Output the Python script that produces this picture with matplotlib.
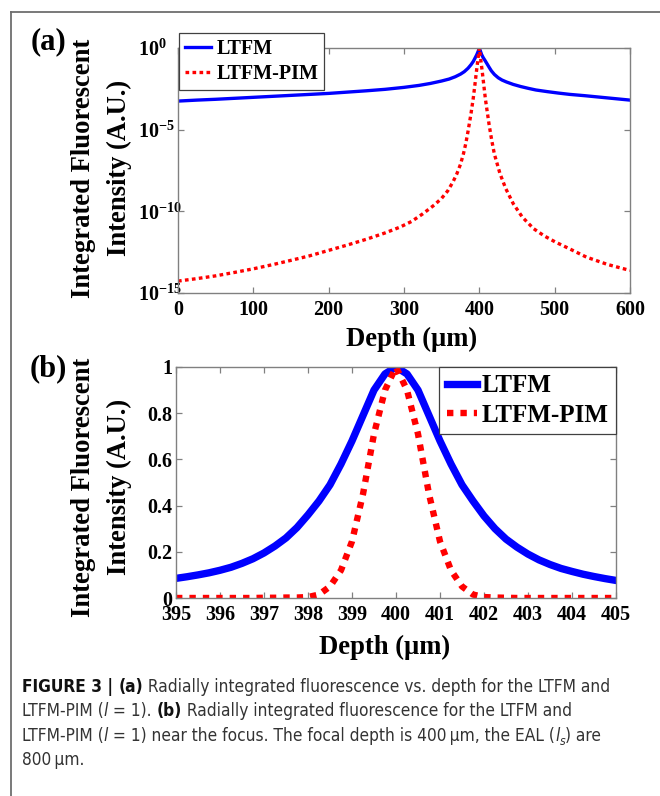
import numpy as np
import matplotlib
matplotlib.use('Agg')
import matplotlib.pyplot as plt
from matplotlib.lines import Line2D
from matplotlib.ticker import NullLocator
from matplotlib import font_manager as fm

W, H = 660, 796

# ---------------- data ----------------
# Panel (a): depth (um) and log10 of integrated intensity
a_ltfm_depth = [0, 25, 50, 75, 100, 125, 150, 175, 200, 225, 250, 275, 300, 320, 335,
                350, 360, 368, 375, 380, 385, 389, 392, 394.5, 396.5, 398.5, 400,
                401.5, 403, 405, 407.5, 410, 413, 416, 420, 425, 430, 436, 445, 455,
                465, 475, 490, 505, 520, 540, 560, 580, 600]
a_ltfm_log = [-3.25, -3.19, -3.14, -3.08, -3.02, -2.96, -2.90, -2.84, -2.78, -2.70,
              -2.62, -2.53, -2.41, -2.29, -2.17, -2.02, -1.90, -1.76, -1.60, -1.45,
              -1.24, -1.02, -0.82, -0.60, -0.42, -0.20, 0.0,
              -0.20, -0.40, -0.58, -0.76, -0.95, -1.18, -1.40, -1.62, -1.82, -1.96,
              -2.08, -2.23, -2.36, -2.47, -2.57, -2.67, -2.76, -2.84, -2.92, -3.01,
              -3.10, -3.19]
a_pim_depth = [0, 25, 50, 75, 100, 125, 150, 175, 200, 225, 250, 275, 295, 310, 325,
               340, 350, 358, 365, 370, 375, 379, 382, 385, 389, 392, 394, 396, 398,
               400, 402, 404, 406, 408, 410, 413, 416.4, 420, 427.4, 435, 445, 457,
               472, 486, 501, 520, 542, 570, 600]
a_pim_log = [-14.27, -14.12, -13.95, -13.74, -13.52, -13.27, -13.0, -12.72, -12.39,
             -12.06, -11.71, -11.32, -10.96, -10.62, -10.15, -9.62, -9.2, -8.75,
             -8.20, -7.72, -7.12, -6.46, -5.85, -5.1, -4.0, -3.05, -2.3, -1.5,
             -0.75, 0.0, -0.75, -1.5, -2.3, -3.1, -3.75, -4.7, -5.64, -6.5, -7.69,
             -8.6, -9.53, -10.35, -11.06, -11.5, -11.88, -12.3, -12.8, -13.25, -13.62]

# Panel (b): depth (um) near focus and normalized intensity
b_depth = [395, 395.25, 395.5, 395.75, 396, 396.25, 396.5, 396.75, 397, 397.25,
           397.5, 397.75, 398, 398.25, 398.5, 398.75, 399, 399.25, 399.5, 399.75,
           400, 400.25, 400.5, 400.75, 401, 401.25, 401.5, 401.75, 402, 402.25,
           402.5, 402.75, 403, 403.25, 403.5, 403.75, 404, 404.25, 404.5, 404.75, 405]
b_ltfm = [0.085, 0.092, 0.100, 0.109, 0.120, 0.133, 0.150, 0.170, 0.195, 0.225,
          0.26, 0.305, 0.36, 0.42, 0.49, 0.58, 0.68, 0.79, 0.90, 0.97,
          1.0, 0.97, 0.90, 0.79, 0.68, 0.58, 0.49, 0.42, 0.355, 0.30,
          0.255, 0.22, 0.19, 0.165, 0.145, 0.128, 0.115, 0.103, 0.093, 0.084, 0.076]
b_pim = [0.0, 0.0, 0.0, 0.0, 0.0, 0.0, 0.0, 0.0, 0.001, 0.001,
         0.002, 0.002, 0.004, 0.015, 0.05, 0.12, 0.245, 0.45, 0.71, 0.90,
         1.0, 0.90, 0.71, 0.45, 0.245, 0.12, 0.05, 0.015, 0.004, 0.002,
         0.001, 0.0, 0.0, 0.0, 0.0, 0.0, 0.0, 0.0, 0.0, 0.0, 0.0]

series_labels = ['LTFM', 'LTFM-PIM']
a_xticks = [0, 100, 200, 300, 400, 500, 600]
a_yticks = [1e-15, 1e-10, 1e-5, 1e0]
a_yticklabels = [r'$\mathbf{10^{-15}}$', r'$\mathbf{10^{-10}}$', r'$\mathbf{10^{-5}}$', r'$\mathbf{10^{0}}$']
b_xticks = [395, 396, 397, 398, 399, 400, 401, 402, 403, 404, 405]
b_yticks = [0, 0.2, 0.4, 0.6, 0.8, 1.0]
b_yticklabels = ['0', '0.2', '0.4', '0.6', '0.8', '1']
ylabel_lines = ['Integrated Fluorescent', 'Intensity (A.U.)']
xlabel_text = 'Depth (\u00b5m)'

# ---------------- style ----------------
plt.rcParams['font.family'] = ['Liberation Serif', 'DejaVu Serif']
plt.rcParams['font.weight'] = 'bold'
plt.rcParams['mathtext.fontset'] = 'custom'
plt.rcParams['mathtext.rm'] = 'Liberation Serif:bold'
plt.rcParams['mathtext.bf'] = 'Liberation Serif:bold'
plt.rcParams['mathtext.it'] = 'Liberation Serif:italic:bold'

BLUE = '#0000ff'
RED = '#ff0000'
SPINE = '#808080'

fig = plt.figure(figsize=(W / 100, H / 100), dpi=100)


def fx(px):
    return px / W


def fy(py):
    return 1 - py / H


def style_axes(ax, lsize):
    for s in ax.spines.values():
        s.set_color(SPINE)
        s.set_linewidth(1.0)
    ax.tick_params(which='both', direction='in', length=4, width=0.9, color=SPINE,
                   top=True, right=True, labelsize=lsize, labelcolor='black')


# ---------------- panel (a) ----------------
axa = fig.add_axes([fx(178), fy(293), fx(630) - fx(178), fy(48) - fy(293)])
axa.plot(a_ltfm_depth, 10.0 ** np.array(a_ltfm_log), color=BLUE, lw=2.4,
         solid_joinstyle='round', label=series_labels[0])
axa.plot(a_pim_depth, 10.0 ** np.array(a_pim_log), color=RED, lw=2.4,
         linestyle=(0, (1.1, 1.0)), dash_capstyle='butt', label=series_labels[1])
axa.set_yscale('log')
axa.set_xlim(0, 600)
axa.set_ylim(1e-15, 1)
axa.set_xticks(a_xticks)
axa.set_yticks(a_yticks)
axa.set_yticklabels(a_yticklabels)
axa.yaxis.set_minor_locator(NullLocator())
style_axes(axa, 14.5)
axa.tick_params(axis='x', pad=5)
axa.tick_params(axis='y', pad=28.5)
for t in axa.get_yticklabels():
    t.set_horizontalalignment('left')
leg_a = axa.legend(loc='upper left', bbox_to_anchor=(fx(179), fy(33)),
                   bbox_transform=fig.transFigure, borderaxespad=0,
                   prop={'family': 'Liberation Serif', 'weight': 'bold', 'size': 14.5},
                   handlelength=1.3, handletextpad=0.25, labelspacing=0.25,
                   borderpad=0.3, fancybox=False, framealpha=1, edgecolor='#404040')
leg_a.get_frame().set_linewidth(0.9)
leg_a.set_zorder(10)

# ---------------- panel (b) ----------------
axb = fig.add_axes([fx(176), fy(598), fx(616) - fx(176), fy(367) - fy(598)])
axb.plot(b_depth, b_ltfm, color=BLUE, lw=5.3, solid_joinstyle='round',
         label=series_labels[0])
axb.plot(b_depth, b_pim, color=RED, lw=4.6, linestyle=(0, (1.0, 1.1)),
         dash_capstyle='butt', label=series_labels[1])
axb.set_xlim(395, 405)
axb.set_ylim(0, 1)
axb.set_xticks(b_xticks)
axb.set_yticks(b_yticks)
axb.set_yticklabels(b_yticklabels)
style_axes(axb, 14.5)
axb.tick_params(axis='x', pad=5)
axb.tick_params(axis='y', pad=2.5)
leg_b = axb.legend(loc='upper right', borderaxespad=0,
                   prop={'family': 'Liberation Serif', 'weight': 'bold', 'size': 18},
                   handlelength=1.2, handletextpad=0.2, labelspacing=0.25,
                   borderpad=0.3, fancybox=False, framealpha=1, edgecolor='#404040')
leg_b.get_frame().set_linewidth(0.9)

# ---------------- axis labels & panel letters ----------------
lab_kw = dict(family='Liberation Serif', weight='bold', size=19.2, rotation=90,
              ha='center', va='center')
for yc in (168, 487):
    fig.text(fx(84), fy(yc), ylabel_lines[0], **lab_kw)
    fig.text(fx(119), fy(yc), ylabel_lines[1], **lab_kw)
fig.text(fx(412), fy(339), xlabel_text, family='Liberation Serif', weight='bold',
         size=19.2, ha='center', va='center')
fig.text(fx(385), fy(647), xlabel_text, family='Liberation Serif', weight='bold',
         size=19.2, ha='center', va='center')
fig.text(fx(48), fy(42), '(a)', family='Liberation Serif', weight='bold', size=22,
         ha='center', va='center')
fig.text(fx(48), fy(369), '(b)', family='Liberation Serif', weight='bold', size=22,
         ha='center', va='center')

# ---------------- frame ----------------
fig.add_artist(Line2D([fx(11), fx(11)], [fy(12), -0.05], transform=fig.transFigure,
                      color='#6e6e6e', lw=1.3))
fig.add_artist(Line2D([fx(11), 1.05], [fy(12), fy(12)], transform=fig.transFigure,
                      color='#6e6e6e', lw=1.3))

# ---------------- caption ----------------
available = {(f.name, str(f.stretch)) for f in fm.fontManager.ttflist}
avail_names = {n for n, _ in available}
cap_stretch = 'normal'
if 'Liberation Sans Narrow' in avail_names:
    cap_family = ['Liberation Sans Narrow', 'DejaVu Sans']
elif any(n == 'DejaVu Sans' and s in ('condensed', 'semi-condensed', '75', '87.5')
         for n, s in available):
    cap_family = ['DejaVu Sans']
    cap_stretch = 'condensed'
else:
    cap_family = ['Roboto', 'DejaVu Sans']

cap_color = '#333333'
N, B, I = ('normal', 'normal'), ('bold', 'normal'), ('normal', 'italic')
caption_lines = [
    [('FIGURE 3 | ', B), ('(a)', B),
     (' Radially integrated fluorescence vs. depth for the LTFM and', N)],
    [('LTFM-PIM (', N), ('l', I), (' = 1). ', N), ('(b)', B),
     (' Radially integrated fluorescence for the LTFM and', N)],
    [('LTFM-PIM (', N), ('l', I), (' = 1) near the focus. The focal depth is 400\u2009\u00b5m, the EAL (', N),
     ('l', I), ('s', I, 'sub'), (') are', N)],
    [('800\u2009\u00b5m.', N)],
]
caption_baselines = [692, 716, 741, 765]

renderer = fig.canvas.get_renderer()


def advance(s, size, weight, style):
    kw = dict(family=cap_family, size=size, weight=weight, style=style, stretch=cap_stretch)
    t1 = fig.text(0, 0, s + '|', **kw)
    t2 = fig.text(0, 0, '|', **kw)
    w = t1.get_window_extent(renderer).width - t2.get_window_extent(renderer).width
    t1.remove()
    t2.remove()
    return w


def line_width(pieces, size):
    tot = 0
    for p in pieces:
        sz = size * 0.7 if len(p) > 2 else size
        tot += advance(p[0], sz, p[1][0], p[1][1])
    return tot


base_size = 12.0
w0 = line_width(caption_lines[0], base_size)
cap_size = base_size * 590.0 / w0

for pieces, yb in zip(caption_lines, caption_baselines):
    x = 22.0
    for p in pieces:
        sub = len(p) > 2
        sz = cap_size * 0.7 if sub else cap_size
        dy = 4 if sub else 0
        fig.text(fx(x), fy(yb + dy), p[0], family=cap_family, size=sz,
                 weight=p[1][0], style=p[1][1], stretch=cap_stretch,
                 color=cap_color if p[1][0] != 'bold' else '#111111',
                 ha='left', va='baseline')
        x += advance(p[0], sz, p[1][0], p[1][1])

fig.savefig('out.png', dpi=100)
